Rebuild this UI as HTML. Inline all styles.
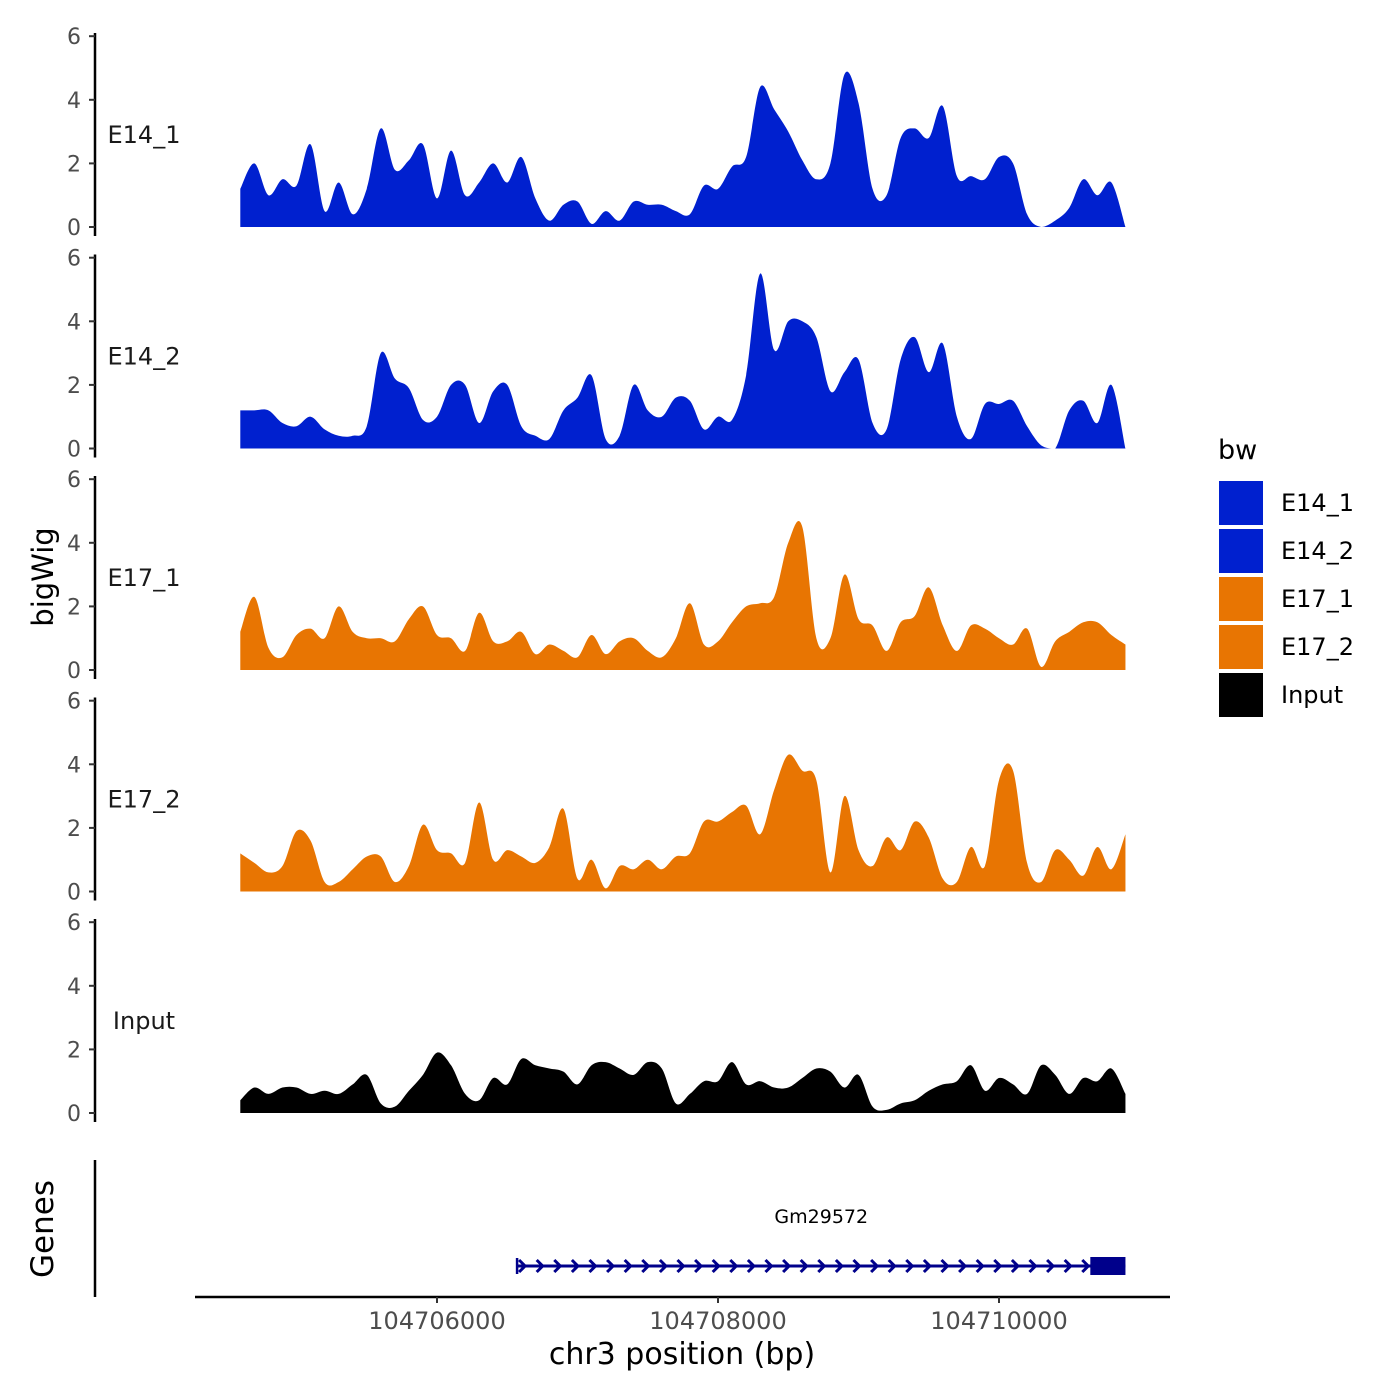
<!DOCTYPE html>
<html><head><meta charset="utf-8"><style>
html,body{margin:0;padding:0;background:#fff;}
svg{display:block;font-family:"DejaVu Sans","Liberation Sans",sans-serif;}
</style></head><body>
<svg id="chart" width="1400" height="1400" viewBox="0 0 1400 1400" xmlns="http://www.w3.org/2000/svg"></svg>
<script>
const trackNames = ["E14_1","E14_2","E17_1","E17_2","Input"];
const trackColors = ["#0020CF","#0020CF","#E87502","#E87502","#000000"];
const binStart = 104704600;
const binWidth = 100;
const xTicks = [104706000, 104708000, 104710000];
const xTickLabels = ["104706000","104708000","104710000"];
const yTicks = [0,2,4,6];
const e14_1 = [1.2,2.0,1.0,1.5,1.3,2.6,0.5,1.4,0.4,1.2,3.1,1.8,2.1,2.6,0.9,2.4,1.0,1.4,2.0,1.4,2.2,0.9,0.2,0.7,0.8,0.1,0.5,0.2,0.8,0.7,0.7,0.5,0.4,1.3,1.2,1.9,2.2,4.4,3.7,3.0,2.1,1.5,2.0,4.8,3.9,1.2,1.0,2.8,3.1,2.8,3.8,1.6,1.6,1.5,2.2,2.0,0.4,0.0,0.2,0.6,1.5,1.0,1.4,0.0];
const e14_2 = [1.2,1.2,1.2,0.8,0.7,1.0,0.6,0.4,0.4,0.7,3.0,2.2,1.9,0.9,1.0,2.0,2.0,0.8,1.8,2.0,0.7,0.4,0.3,1.2,1.6,2.3,0.3,0.4,2.0,1.2,1.0,1.6,1.5,0.6,1.0,0.9,2.3,5.5,3.1,4.0,4.0,3.5,1.8,2.4,2.8,0.8,0.6,2.8,3.5,2.4,3.3,1.0,0.3,1.4,1.4,1.5,0.7,0.1,0.0,1.2,1.5,0.8,2.0,0.0];
const e17_1 = [1.2,2.3,0.7,0.4,1.1,1.3,1.0,2.0,1.2,1.0,1.0,0.9,1.6,2.0,1.1,1.0,0.6,1.8,0.9,0.9,1.2,0.5,0.8,0.6,0.4,1.1,0.5,0.9,1.0,0.6,0.4,1.0,2.1,0.8,0.9,1.5,2.0,2.1,2.3,4.0,4.5,1.0,1.0,3.0,1.6,1.4,0.6,1.5,1.7,2.6,1.4,0.6,1.4,1.3,1.0,0.8,1.3,0.1,0.9,1.2,1.5,1.5,1.1,0.8];
const e17_2 = [1.2,0.9,0.6,0.8,1.9,1.6,0.3,0.3,0.7,1.1,1.1,0.3,0.8,2.1,1.3,1.2,0.9,2.8,1.0,1.3,1.1,0.9,1.4,2.6,0.4,1.0,0.1,0.8,0.7,1.0,0.7,1.1,1.2,2.2,2.2,2.5,2.7,1.8,3.2,4.3,3.8,3.5,0.6,3.0,1.3,0.8,1.7,1.3,2.2,1.7,0.4,0.3,1.4,0.8,3.5,3.8,0.9,0.3,1.3,1.0,0.5,1.4,0.7,1.8];
const input = [0.4,0.8,0.6,0.8,0.8,0.6,0.7,0.6,0.9,1.2,0.3,0.2,0.7,1.2,1.9,1.5,0.6,0.4,1.1,0.9,1.7,1.5,1.4,1.3,0.9,1.5,1.6,1.4,1.2,1.6,1.4,0.3,0.6,1.0,1.0,1.6,0.9,1.0,0.8,0.8,1.1,1.4,1.3,0.8,1.2,0.2,0.1,0.3,0.4,0.7,0.9,1.0,1.5,0.7,1.1,0.9,0.6,1.5,1.2,0.6,1.1,1.0,1.4,0.6];
const trackValues = [e14_1,e14_2,e17_1,e17_2,input];
const geneName = "Gm29572";
const geneStart = 104706570;
const geneEnd = 104710900;
const geneThickStart = 104710650;

const svg = document.getElementById('chart');
const NS = "http://www.w3.org/2000/svg";
function mk(tag, attrs, parent){const e=document.createElementNS(NS,tag);for(const k in attrs)e.setAttribute(k,attrs[k]);(parent||svg).appendChild(e);return e;}
const xScale = bp => 437 + (bp - 104706000) * 281/2000;
function yScale(k, v){ return 227 + k*221.5 - v*31.8; }

trackNames.forEach((name,k)=>{
  const g = mk('g',{});
  
  
  const base = yScale(k,0);
  const ax = mk('line',{x1:95,x2:95,y1:base-194,y2:base+9,stroke:'#000','stroke-width':2.5},g);
  
  
  yTicks.forEach(t=>{
    const y=yScale(k,t);
    mk('line',{x1:89,x2:95,y1:y,y2:y,stroke:'#333','stroke-width':2},g);
    const tl=mk('text',{x:81,y:y+8,'text-anchor':'end','font-size':22,fill:'#4d4d4d'},g);
    tl.textContent=t;
    
    
  });
  const lab=mk('text',{x:144,y:base-84,'text-anchor':'middle','font-size':24,fill:'#1a1a1a'},g);
  lab.textContent=name;
  
  
  const vals=trackValues[k];
  const pts=vals.map((v,i)=>[xScale(binStart+i*binWidth), yScale(k,v)]);
  let d=`M${pts[0][0]},${base} L${pts[0][0]},${pts[0][1]}`;
  for(let i=0;i<pts.length-1;i++){
    const p0=pts[Math.max(0,i-1)],p1=pts[i],p2=pts[i+1],p3=pts[Math.min(pts.length-1,i+2)];
    const c1x=p1[0]+(p2[0]-p0[0])/6, c1y=Math.min(base,p1[1]+(p2[1]-p0[1])/6);
    const c2x=p2[0]-(p3[0]-p1[0])/6, c2y=Math.min(base,p2[1]-(p3[1]-p1[1])/6);
    d+=` C${c1x},${c1y} ${c2x},${c2y} ${p2[0]},${p2[1]}`;
  }
  d+=` L${pts[pts.length-1][0]},${base} Z`;
  const area=mk('path',{d:d,fill:trackColors[k]},g);
  
  
});

const gaxis=mk('line',{x1:95,x2:95,y1:1160,y2:1297,stroke:'#000','stroke-width':2.5});


const gg=mk('g',{});


const gy=1266;
mk('line',{x1:xScale(geneStart),x2:xScale(geneEnd),y1:gy,y2:gy,stroke:'#00008B','stroke-width':3},gg);
mk('line',{x1:xScale(geneStart),x2:xScale(geneStart),y1:gy-8,y2:gy+8,stroke:'#00008B','stroke-width':2.5},gg);
for(let x=xScale(geneStart)+2;x<xScale(geneThickStart);x+=17.6){
  mk('path',{d:`M${x},${gy-6} L${x+6},${gy} L${x},${gy+6}`,fill:'none',stroke:'#00008B','stroke-width':3},gg);
}
mk('rect',{x:xScale(geneThickStart),y:gy-9,width:xScale(geneEnd)-xScale(geneThickStart),height:18,fill:'#00008B'},gg);
const gl=mk('text',{x:(xScale(geneStart)+xScale(geneEnd))/2,y:1223,'text-anchor':'middle','font-size':19,fill:'#000'},gg);
gl.textContent=geneName;

const xa=mk('line',{x1:195,x2:1170,y1:1297,y2:1297,stroke:'#000','stroke-width':2.5});


xTicks.forEach((t,i)=>{
  const x=xScale(t);
  mk('line',{x1:x,x2:x,y1:1297,y2:1303,stroke:'#333','stroke-width':2});
  const tl=mk('text',{x:x,y:1329,'text-anchor':'middle','font-size':24,fill:'#4d4d4d'});
  tl.textContent=xTickLabels[i];
  
  
});
const xt=mk('text',{x:682,y:1364,'text-anchor':'middle','font-size':30,fill:'#000'});
xt.textContent="chr3 position (bp)";


const yt=mk('text',{x:0,y:0,'text-anchor':'middle','font-size':29,fill:'#000',transform:'translate(53,577) rotate(-90)'});
yt.textContent="bigWig";


const gt=mk('text',{x:0,y:0,'text-anchor':'middle','font-size':31,fill:'#000',transform:'translate(53,1229) rotate(-90)'});
gt.textContent="Genes";



const lg=mk('g',{});


const lt=mk('text',{x:1218,y:459,'font-size':27,fill:'#000'},lg);
lt.textContent="bw";
trackNames.forEach((n,i)=>{
  const e=mk('g',{},lg);
  
  
  mk('rect',{x:1219,y:481+i*48,width:44,height:44,fill:trackColors[i]},e);
  const t=mk('text',{x:1281,y:511+i*48,'font-size':24,fill:'#000'},e);
  t.textContent=n;
});
</script>
</body></html>
